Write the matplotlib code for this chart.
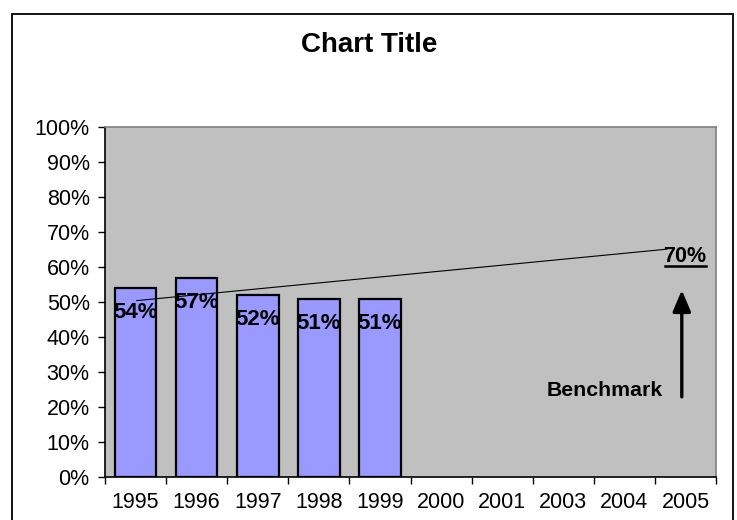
import matplotlib.pyplot as plt
import matplotlib
from matplotlib.patches import Rectangle
from matplotlib.ticker import PercentFormatter

matplotlib.rcParams['font.family'] = 'sans-serif'
matplotlib.rcParams['font.sans-serif'] = ['Liberation Sans', 'DejaVu Sans']

years = ['1995', '1996', '1997', '1998', '1999', '2000', '2001', '2003', '2004', '2005']
shares = [0.54, 0.57, 0.52, 0.51, 0.51]
share_labels = ['54%', '57%', '52%', '51%', '51%']

# trend line drawn across the chart (category index, share)
trend_x = [0.02, 8.7]
trend_y = [0.504, 0.651]
benchmark = '70%'

fig = plt.figure(figsize=(7.37, 5.20), dpi=100)
fig.patch.set_facecolor('white')
ax = fig.add_axes([105/737, 1 - 477/520, 611/737, 350/520])
ax.set_facecolor('#C0C0C0')

x = range(len(shares))
ax.bar(x, shares, width=0.68, color='#9999FF', edgecolor='black', linewidth=1.6, zorder=2)
for i, (v, lab) in enumerate(zip(shares, share_labels)):
    ax.text(i, v - 0.071, lab, ha='center', va='center', fontsize=16,
            fontweight='bold', zorder=4)

ax.plot(trend_x, trend_y, color='black', lw=0.8, zorder=3)

ax.text(8.99, 0.629, benchmark, ha='center', va='center', fontsize=15.5,
        fontweight='bold', zorder=4)
ax.plot([8.66, 9.33], [0.603, 0.603], color='black', lw=1.8, zorder=4)
ax.annotate('', xy=(8.94, 0.534), xytext=(8.94, 0.229),
            arrowprops=dict(arrowstyle='-|>,head_length=1.3,head_width=0.55',
                            color='black', lw=2.4, shrinkA=0, shrinkB=0), zorder=4)
ax.text(7.68, 0.246, 'Benchmark', ha='center', va='center', fontsize=15.3,
        fontweight='bold', zorder=4)

ax.set_xlim(-0.5, 9.5)
ax.set_ylim(0, 1)
ax.set_yticks([i / 10 for i in range(11)])
ax.yaxis.set_major_formatter(PercentFormatter(1.0, decimals=0))
ax.set_xticks([i - 0.5 for i in range(11)])
ax.set_xticklabels([])
ax.set_xticks(list(range(10)), minor=True)
ax.set_xticklabels(years, minor=True)
ax.tick_params(axis='x', which='minor', length=0, labelsize=15.5, pad=11)
ax.tick_params(axis='x', which='major', length=5, width=1, direction='out')
ax.tick_params(axis='y', length=5, width=1, direction='out', labelsize=15.5, pad=6)

ax.spines['left'].set_color('black')
ax.spines['bottom'].set_color('black')
ax.spines['top'].set_color('#808080')
ax.spines['right'].set_color('#808080')
for s in ax.spines.values():
    s.set_linewidth(1.2)

fig.text(369/737, 1 - 45/520, 'Chart Title', ha='center', va='center',
         fontsize=20, fontweight='bold')

fig.patches.append(Rectangle((12/737, -0.1), (733 - 12)/737, 1.1 - 14/520,
                             transform=fig.transFigure, fill=False,
                             edgecolor='black', lw=1.3))

plt.savefig('out.png', dpi=100)
